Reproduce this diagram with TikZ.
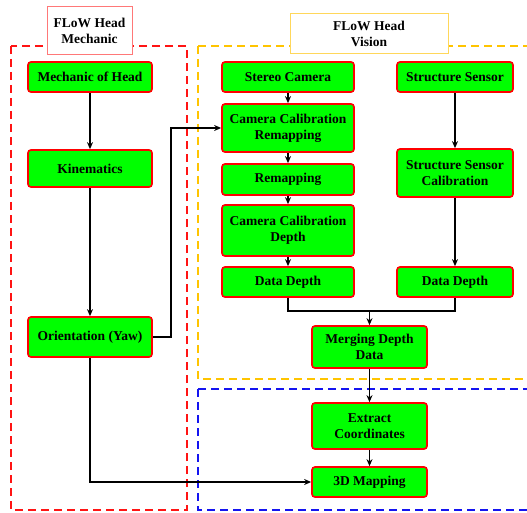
\documentclass[tikz,border=0pt]{standalone}
\usepackage{fontspec}
\setmainfont{Liberation Serif}
\usetikzlibrary{arrows.meta}
\definecolor{boxgreen}{RGB}{0,255,0}
\definecolor{dred}{RGB}{255,20,20}
\definecolor{dyellow}{RGB}{255,196,0}
\definecolor{dblue}{RGB}{20,20,240}
\definecolor{lred}{RGB}{255,120,120}
\definecolor{lyellow}{RGB}{255,215,90}
\begin{document}
\begin{tikzpicture}[x=1pt,y=-1pt,
  blk/.style={draw=red,fill=boxgreen,line width=1.7pt,rounded corners=3pt,
    font=\fontsize{13.5}{16}\selectfont\bfseries,align=center,inner sep=0pt},
  conn/.style={line width=1.4pt,black},
  arr/.style={conn,-{Stealth[length=7pt,width=6pt]}},
  grp/.style={line width=1.8pt,dash pattern=on 8pt off 5pt},
  lbl/.style={fill=white,line width=1pt,font=\fontsize{13.5}{16}\selectfont\bfseries,align=center,inner sep=0pt}]
\useasboundingbox (0,0) rectangle (527,513);
\fill[white] (0,0) rectangle (527,513);
% group boxes
\draw[grp,dred] (11,46) rectangle (187,510);
\draw[grp,dyellow] (198,46) -- (540,46) (198,46) -- (198,379) -- (540,379);
\draw[grp,dblue] (198,389) -- (540,389) (198,389) -- (198,510) -- (540,510);
% labels
\node[lbl,draw=lred,minimum width=85pt,minimum height=48pt] (lm) at (89.5,31) {FLoW Head\\Mechanic};
\node[lbl,draw=lyellow,minimum width=158pt,minimum height=40pt] (lv) at (369,34) {FLoW Head\\Vision};
% left column
\node[blk,minimum width=124pt,minimum height=30pt] (mh) at (90,77) {Mechanic of Head};
\node[blk,minimum width=124pt,minimum height=37pt] (kin) at (90,168.5) {Kinematics};
\node[blk,minimum width=124pt,minimum height=40pt] (ori) at (90,337) {Orientation (Yaw)};
% middle column
\node[blk,minimum width=132pt,minimum height=30pt] (sc) at (288,77) {Stereo Camera};
\node[blk,minimum width=132pt,minimum height=48pt] (ccr) at (288,128) {Camera Calibration\\Remapping};
\node[blk,minimum width=132pt,minimum height=31pt] (rem) at (288,179.5) {Remapping};
\node[blk,minimum width=132pt,minimum height=51pt] (ccd) at (288,230.5) {Camera Calibration\\Depth};
\node[blk,minimum width=132pt,minimum height=30pt] (dd1) at (288,282) {Data Depth};
% right column
\node[blk,minimum width=116pt,minimum height=30pt] (ss) at (455,77) {Structure Sensor};
\node[blk,minimum width=116pt,minimum height=48pt] (ssc) at (455,173) {Structure Sensor\\Calibration};
\node[blk,minimum width=116pt,minimum height=30pt] (dd2) at (455,282) {Data Depth};
% bottom
\node[blk,minimum width=115pt,minimum height=42pt] (mdd) at (369.5,347) {Merging Depth\\Data};
\node[blk,minimum width=115pt,minimum height=46pt] (ec) at (369.5,426) {Extract\\Coordinates};
\node[blk,minimum width=115pt,minimum height=30pt] (map) at (369.5,482) {3D Mapping};
\coordinate (jn) at (369.5,311);
% connectors
\draw[arr] (mh) -- (kin);
\draw[arr] (kin) -- (ori);
\draw[arr] (ori.east) -- (171,337) -- (171,128) -- (ccr.west);
\draw[arr] (ori.south) -- (90,482) -- (map.west);
\draw[arr] (sc) -- (ccr);
\draw[arr] (ccr) -- (rem);
\draw[arr] (rem) -- (ccd);
\draw[arr] (ccd) -- (dd1);
\draw[arr] (ss) -- (ssc);
\draw[arr] (ssc) -- (dd2);
\draw[conn] (dd1.south) |- (jn) -| (dd2.south);
\draw[arr] (jn) -- (mdd);
\draw[arr] (mdd) -- (ec);
\draw[arr] (ec) -- (map);
\end{tikzpicture}
\end{document}
